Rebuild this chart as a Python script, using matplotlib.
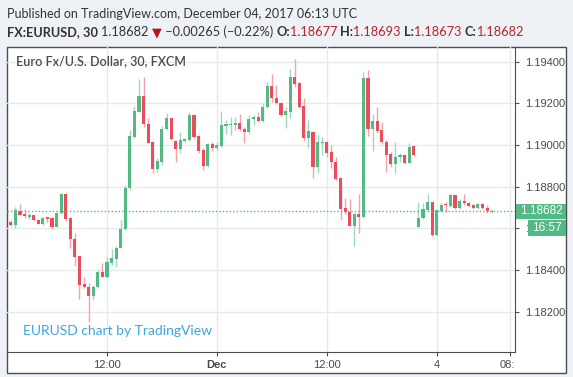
import matplotlib
matplotlib.use('Agg')
import matplotlib.pyplot as plt
import matplotlib.transforms as mtransforms
from matplotlib.patches import Rectangle
import numpy as np

# FX:EURUSD 30-minute candles, Nov 30 01:30 UTC .. Dec 04 06:00 UTC (weekend removed)
opens = [
    1.18629, 1.18616, 1.18685, 1.18669, 1.18654, 1.18663, 1.18640, 1.18622, 1.18653, 1.18648,
    1.18608, 1.18672, 1.18763, 1.18648, 1.18547, 1.18466, 1.18333, 1.18320, 1.18277, 1.18317,
    1.18392, 1.18368, 1.18432, 1.18453, 1.18507, 1.18595, 1.18792, 1.19040, 1.19160, 1.19235,
    1.19099, 1.19013, 1.18885, 1.18917, 1.19077, 1.19131, 1.19019, 1.18981, 1.19019, 1.19024,
    1.19144, 1.19043, 1.18976, 1.18899, 1.19005, 1.18987, 1.18997, 1.19093, 1.19095, 1.19096,
    1.19104, 1.19077, 1.19064, 1.19123, 1.19136, 1.19117, 1.19181, 1.19283, 1.19224, 1.19203,
    1.19144, 1.19160, 1.19325, 1.19299, 1.19187, 1.19032, 1.19064, 1.18896, 1.19008, 1.19013,
    1.18965, 1.18920, 1.18840, 1.18696, 1.18677, 1.18613, 1.18667, 1.18656, 1.19323, 1.19077,
    1.19115, 1.19072, 1.19016, 1.18957, 1.18909, 1.18944, 1.18952, 1.18915, 1.18995, 1.18608,
    1.18648, 1.18688, 1.18725, 1.18568, 1.18685, 1.18713, 1.18709, 1.18760, 1.18696, 1.18733,
    1.18723, 1.18712, 1.18696, 1.18717, 1.18696, 1.18677,
]
highs = [
    1.18640, 1.18704, 1.18717, 1.18693, 1.18672, 1.18665, 1.18646, 1.18656, 1.18656, 1.18656,
    1.18675, 1.18768, 1.18768, 1.18654, 1.18578, 1.18467, 1.18368, 1.18336, 1.18328, 1.18400,
    1.18434, 1.18464, 1.18499, 1.18515, 1.18640, 1.18808, 1.19072, 1.19189, 1.19317, 1.19328,
    1.19128, 1.19019, 1.18936, 1.19091, 1.19152, 1.19136, 1.19024, 1.19061, 1.19035, 1.19157,
    1.19147, 1.19048, 1.18984, 1.19008, 1.19013, 1.19013, 1.19163, 1.19120, 1.19136, 1.19136,
    1.19147, 1.19088, 1.19144, 1.19144, 1.19160, 1.19200, 1.19301, 1.19339, 1.19288, 1.19208,
    1.19184, 1.19365, 1.19413, 1.19304, 1.19227, 1.19120, 1.19067, 1.19048, 1.19040, 1.19019,
    1.19000, 1.18944, 1.18843, 1.18747, 1.18741, 1.18672, 1.18763, 1.19352, 1.19360, 1.19147,
    1.19184, 1.19112, 1.19024, 1.18968, 1.19013, 1.18960, 1.18955, 1.19008, 1.18999, 1.18728,
    1.18723, 1.18765, 1.18728, 1.18691, 1.18720, 1.18725, 1.18765, 1.18763, 1.18739, 1.18765,
    1.18728, 1.18717, 1.18720, 1.18720, 1.18712, 1.18693,
]
lows = [
    1.18611, 1.18600, 1.18664, 1.18650, 1.18643, 1.18634, 1.18621, 1.18615, 1.18630, 1.18595,
    1.18605, 1.18669, 1.18637, 1.18504, 1.18419, 1.18261, 1.18312, 1.18152, 1.18256, 1.18312,
    1.18366, 1.18360, 1.18424, 1.18416, 1.18504, 1.18592, 1.18784, 1.19032, 1.19157, 1.19088,
    1.19008, 1.18864, 1.18869, 1.18904, 1.19072, 1.19024, 1.18920, 1.18960, 1.19013, 1.19021,
    1.19035, 1.18960, 1.18880, 1.18896, 1.18971, 1.18976, 1.18992, 1.19051, 1.19048, 1.19072,
    1.19069, 1.19010, 1.19053, 1.19096, 1.19112, 1.19112, 1.19176, 1.19208, 1.19195, 1.19141,
    1.19080, 1.19128, 1.19277, 1.19176, 1.19019, 1.18984, 1.18843, 1.18864, 1.18952, 1.18944,
    1.18888, 1.18832, 1.18640, 1.18667, 1.18611, 1.18517, 1.18576, 1.18651, 1.19045, 1.18971,
    1.19056, 1.19003, 1.18872, 1.18896, 1.18864, 1.18920, 1.18907, 1.18912, 1.18947, 1.18605,
    1.18643, 1.18685, 1.18565, 1.18565, 1.18680, 1.18677, 1.18704, 1.18693, 1.18693, 1.18712,
    1.18704, 1.18691, 1.18691, 1.18691, 1.18675, 1.18673,
]
closes = [
    1.18617, 1.18688, 1.18665, 1.18658, 1.18663, 1.18640, 1.18622, 1.18651, 1.18646, 1.18608,
    1.18674, 1.18763, 1.18646, 1.18547, 1.18464, 1.18328, 1.18320, 1.18277, 1.18317, 1.18392,
    1.18368, 1.18437, 1.18456, 1.18507, 1.18597, 1.18792, 1.19043, 1.19163, 1.19235, 1.19099,
    1.19011, 1.18885, 1.18923, 1.19077, 1.19131, 1.19029, 1.18981, 1.19024, 1.19029, 1.19144,
    1.19040, 1.18971, 1.18899, 1.19005, 1.18987, 1.19000, 1.19096, 1.19099, 1.19102, 1.19107,
    1.19077, 1.19061, 1.19123, 1.19136, 1.19117, 1.19181, 1.19283, 1.19224, 1.19200, 1.19144,
    1.19163, 1.19325, 1.19293, 1.19184, 1.19032, 1.19067, 1.18896, 1.19013, 1.19013, 1.18963,
    1.18920, 1.18837, 1.18693, 1.18677, 1.18613, 1.18667, 1.18656, 1.19323, 1.19077, 1.19115,
    1.19067, 1.19013, 1.18952, 1.18909, 1.18944, 1.18952, 1.18912, 1.18992, 1.18951, 1.18648,
    1.18691, 1.18725, 1.18568, 1.18688, 1.18712, 1.18711, 1.18760, 1.18696, 1.18733, 1.18720,
    1.18709, 1.18696, 1.18717, 1.18696, 1.18685, 1.18682,
]

# bar index of each time label
time_ticks = [21, 45, 69, 93, 109]
time_labels = ['12:00', 'Dec', '12:00', '4', '08:']
price_ticks = [1.182, 1.184, 1.186, 1.188, 1.190, 1.192, 1.194]
last_price = 1.18682
countdown = '16:57'

header_parts = [
    ('FX:EURUSD, 30 ', 'bold', '#333333'),
    ('1.18682 ', 'normal', '#333333'),
    ('\u25bc', 'normal', '#b0191e'),
    (' \u22120.00265 (\u22120.22%) ', 'normal', '#333333'),
    ('O:', 'bold', '#333333'),
    ('1.18677 ', 'normal', '#b4272a'),
    ('H:', 'bold', '#333333'),
    ('1.18693 ', 'normal', '#b4272a'),
    ('L:', 'bold', '#333333'),
    ('1.18673 ', 'normal', '#b4272a'),
    ('C:', 'bold', '#333333'),
    ('1.18682', 'normal', '#b4272a'),
]

GREEN = '#53b987'
RED = '#eb4d5c'
W, H = 573, 377


def fx(px):
    return px / W


def fy(py):
    return 1 - py / H


def main() -> None:
    plt.rcParams['font.family'] = ['Liberation Sans', 'DejaVu Sans']
    fig = plt.figure(figsize=(W / 100, H / 100), dpi=100)
    fig.patch.set_facecolor('#eef1f5')

    # white chart frame
    fig.patches.append(Rectangle((fx(7), fy(373)), fx(566) - fx(7), fy(47) - fy(373),
                                 transform=fig.transFigure, facecolor='white',
                                 edgecolor='#4d4d4d', lw=1, zorder=-1))

    ax = fig.add_axes([fx(7), fy(352), fx(515) - fx(7), fy(47) - fy(352)])
    ax.set_facecolor('none')

    o, h, l, c = (np.array(v) for v in (opens, highs, lows, closes))
    x = np.arange(len(o))
    up = c >= o
    ax.vlines(x, l, h, colors=np.where(up, '#9fd9bc', '#f4a3ac'), lw=1, zorder=2)
    ax.bar(x, np.maximum(np.abs(c - o), 0.00003), bottom=np.minimum(o, c), width=0.68,
           color=np.where(up, GREEN, RED), lw=0, zorder=3)

    ax.axhline(last_price, color=GREEN, lw=1, ls=(0, (1, 1.5)), zorder=4)

    ax.set_xlim(-0.83, 110.1)
    ax.set_ylim(1.18006, 1.19470)
    ax.set_xticks(time_ticks)
    ax.set_xticklabels(time_labels)
    ax.set_yticks(price_ticks)
    ax.set_yticklabels([f'{p:.5f}' for p in price_ticks])
    ax.grid(True, color='#e3eaf1', lw=1, zorder=0)
    ax.axhline(1.180, color='#e3eaf1', lw=1, zorder=0)
    ax.set_axisbelow(True)
    ax.yaxis.tick_right()
    ax.tick_params(axis='both', length=3, color='#4d4d4d', labelcolor='#4a4a4a', labelsize=8)
    ax.tick_params(axis='y', pad=4)
    ax.tick_params(axis='x', pad=3)
    xlabels = ax.get_xticklabels()
    xlabels[1].set_fontweight('bold')
    # the last time label is cut off by the price scale
    xlabels[-1].set_horizontalalignment('right')
    xlabels[-1].set_transform(xlabels[-1].get_transform() +
                              mtransforms.ScaledTranslation(5 / 100, 0, fig.dpi_scale_trans))
    for side in ('left', 'top'):
        ax.spines[side].set_visible(False)
    for side in ('right', 'bottom'):
        ax.spines[side].set_color('#4d4d4d')

    # last price and bar countdown on the price scale
    yp = ax.transData.transform((0, last_price))[1] / H
    fig.patches.append(Rectangle((fx(516), yp - 7.5 / H), fx(566) - fx(516), 15 / H,
                                 transform=fig.transFigure, facecolor=GREEN, lw=0, zorder=5))
    fig.text(fx(541), yp, f'{last_price:.5f}', color='white', fontsize=8.5,
             ha='center', va='center', zorder=6)
    fig.patches.append(Rectangle((fx(528), yp - 24.5 / H), fx(566) - fx(528), 16 / H,
                                 transform=fig.transFigure, facecolor=GREEN, lw=0, zorder=5))
    fig.text(fx(547), yp - 16.5 / H, countdown, color='white', fontsize=8.5,
             ha='center', va='center', zorder=6)

    fig.text(fx(16), fy(61), 'Euro Fx/U.S. Dollar, 30, FXCM', color='#4a4a4a',
             fontsize=9, family='Lato', fontweight='semibold', va='center')
    fig.text(fx(23), fy(331), 'EURUSD chart by TradingView', color='#3aa6e0',
             fontsize=10, family='Lato', va='center')

    fig.text(fx(7), fy(18), 'Published on TradingView.com, December 04, 2017 06:13 UTC',
             color='#333333', fontsize=9, family='Lato', va='baseline')

    fig.canvas.draw()
    renderer = fig.canvas.get_renderer()
    xpos = fx(7)
    for text, weight, color in header_parts:
        t = fig.text(xpos, fy(36.5), text, color=color, fontsize=9.15,
                     family=['Lato', 'DejaVu Sans'], fontweight=weight, va='baseline')
        xpos = t.get_window_extent(renderer).x1 / W

    fig.savefig('out.png', dpi=100, facecolor=fig.get_facecolor())


if __name__ == '__main__':
    main()
